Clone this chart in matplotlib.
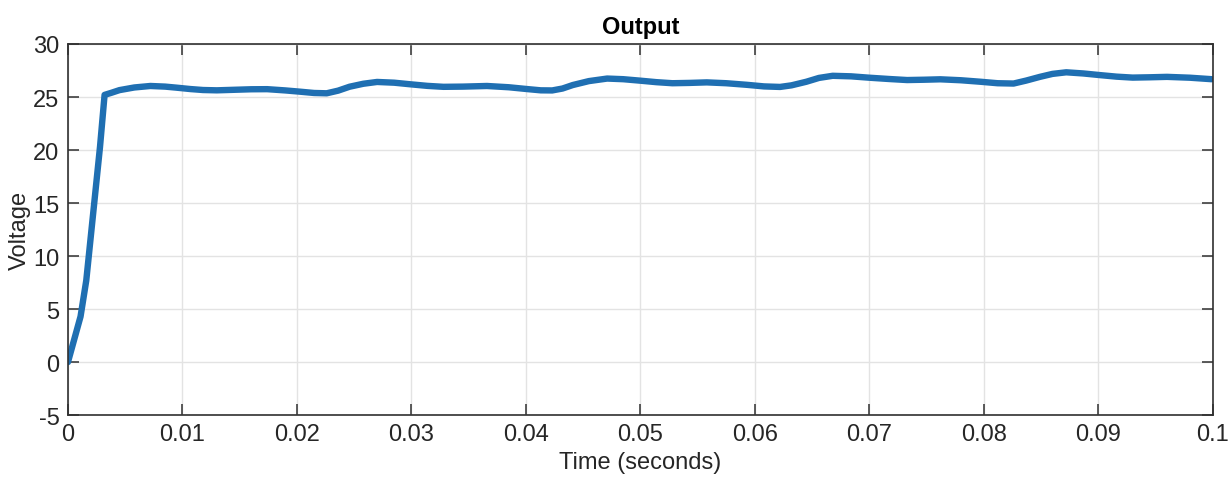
"""
Output voltage step response
"""

import matplotlib.pyplot as plt
from matplotlib import font_manager

# values
time_s = [0, 0.0011, 0.0016, 0.0022, 0.0028, 0.0032, 0.0038, 0.0045, 0.0058,
          0.0072, 0.0085, 0.0095, 0.0107, 0.0118, 0.013, 0.0145, 0.016,
          0.0174, 0.019, 0.0203, 0.0215, 0.0226, 0.0236, 0.0246, 0.0258,
          0.027, 0.0285, 0.0299, 0.0314, 0.0328, 0.0345, 0.0366, 0.0385,
          0.0401, 0.0413, 0.0423, 0.0432, 0.0441, 0.0455, 0.0471, 0.0485,
          0.05, 0.0514, 0.0528, 0.0543, 0.0558, 0.0575, 0.0593, 0.0608,
          0.0622, 0.0632, 0.0645, 0.0656, 0.0668, 0.0684, 0.07, 0.0717,
          0.0733, 0.0748, 0.0762, 0.078, 0.0797, 0.0812, 0.0826, 0.0837,
          0.0849, 0.086, 0.0872, 0.0887, 0.0901, 0.0916, 0.093, 0.0945,
          0.096, 0.098, 0.0999]
voltage = [0, 4.3, 7.7, 14.0, 20.3, 25.2, 25.4, 25.65, 25.9,
           26.04, 25.98, 25.88, 25.75, 25.66, 25.63, 25.68, 25.73,
           25.74, 25.62, 25.5, 25.38, 25.35, 25.6, 25.97, 26.25,
           26.42, 26.35, 26.2, 26.05, 25.96, 25.98, 26.04, 25.92,
           25.75, 25.63, 25.62, 25.8, 26.13, 26.5, 26.74, 26.68,
           26.54, 26.4, 26.3, 26.33, 26.38, 26.3, 26.15, 26.0,
           25.95, 26.1, 26.44, 26.8, 27.0, 26.95, 26.82, 26.7,
           26.6, 26.63, 26.67, 26.58, 26.44, 26.3, 26.27, 26.55,
           26.9, 27.18, 27.33, 27.22, 27.07, 26.92, 26.83, 26.86,
           26.9, 26.82, 26.68]

x_ticks = [0, 0.01, 0.02, 0.03, 0.04, 0.05, 0.06, 0.07, 0.08, 0.09, 0.1]
x_labels = ["0", "0.01", "0.02", "0.03", "0.04", "0.05", "0.06", "0.07",
            "0.08", "0.09", "0.1"]
y_ticks = [-5, 0, 5, 10, 15, 20, 25, 30]

names = {f.name for f in font_manager.fontManager.ttflist}
if "Liberation Sans Narrow" in names:
    plt.rcParams["font.family"] = ["Liberation Sans Narrow", "DejaVu Sans"]
else:
    plt.rcParams["font.family"] = ["Liberation Sans", "DejaVu Sans"]
plt.rcParams["axes.unicode_minus"] = False

fig = plt.figure(figsize=(12.31, 4.89), dpi=100)
ax = fig.add_axes([0.0552, 0.149, 0.930, 0.759])

ax.plot(time_s, voltage, color="#1f6fb2", linewidth=4.6,
        solid_joinstyle="round", solid_capstyle="round")

ax.set_xlim(0, 0.1)
ax.set_ylim(-5, 30)
ax.set_xticks(x_ticks)
ax.set_xticklabels(x_labels)
ax.set_yticks(y_ticks)
ax.grid(True, color="#e3e3e3", linewidth=1.0)
ax.set_axisbelow(True)

for spine in ax.spines.values():
    spine.set_color("#303030")
    spine.set_linewidth(1.2)
ax.tick_params(direction="in", length=8, width=1.1, colors="#303030",
               labelsize=17, top=True, right=True, pad=6)
ax.tick_params(axis="x", labelcolor="#262626")
ax.tick_params(axis="y", labelcolor="#262626")

ax.set_title("Output", fontsize=17, fontweight="bold", pad=8)
ax.set_xlabel("Time (seconds)", fontsize=17, color="#262626", labelpad=4)
ax.set_ylabel("Voltage", fontsize=17, color="#262626", labelpad=2)

fig.savefig("out.png", dpi=100)
